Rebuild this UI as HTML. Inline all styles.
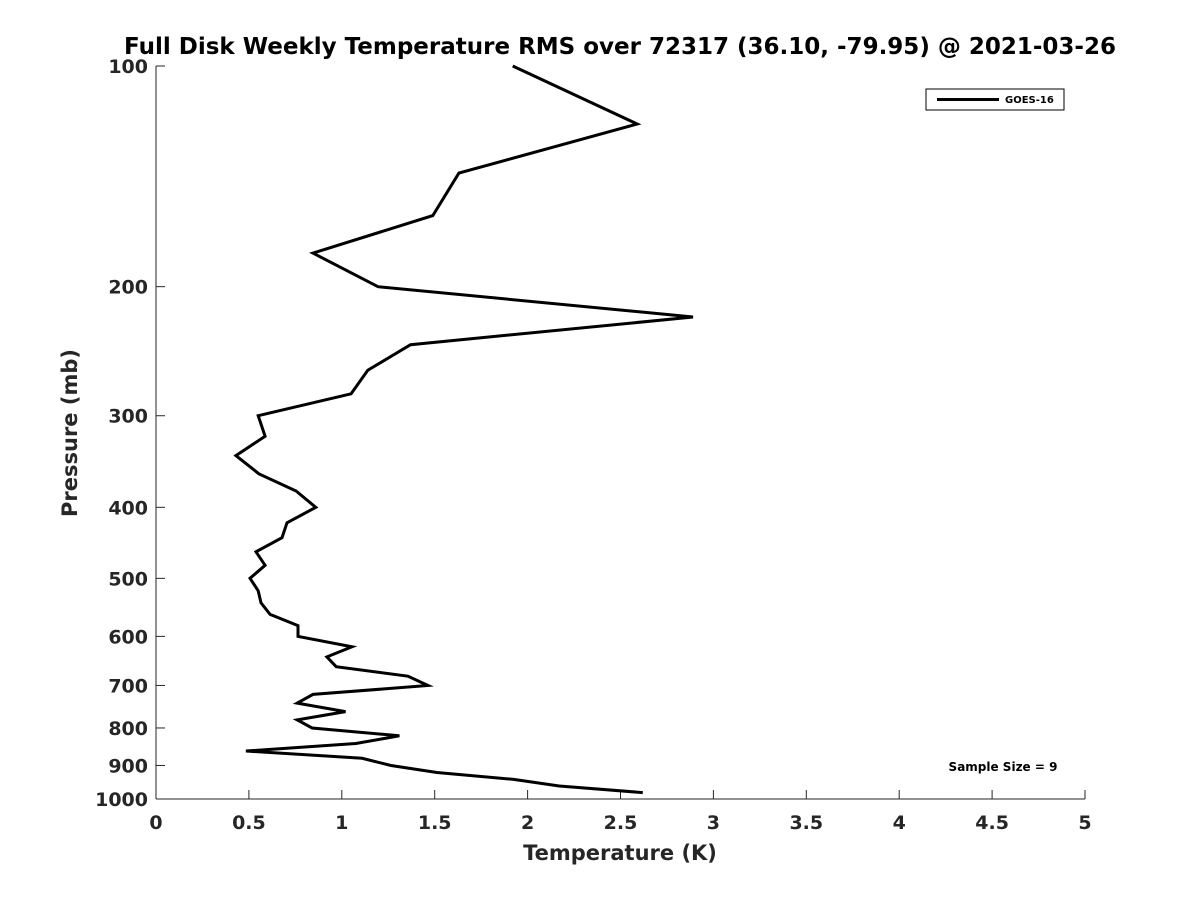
<!DOCTYPE html>
<html><head><meta charset="utf-8"><style>
body{margin:0;background:#fff;}
svg text{font-family:"DejaVu Sans","Liberation Sans",sans-serif;font-weight:bold;fill:#262626;}
</style></head><body>
<svg width="1200" height="900" xmlns="http://www.w3.org/2000/svg">
<rect width="1200" height="900" fill="#fff"/>
<text x="620" y="54" text-anchor="middle" font-size="23" style="fill:#000">Full Disk Weekly Temperature RMS over 72317 (36.10, -79.95) @ 2021-03-26</text>
<g id="axes"></g>
<g id="plot"></g>
<g>
<rect x="926" y="89" width="138" height="21" fill="#fff" stroke="#000" stroke-width="1"/>
<line x1="937" y1="99.5" x2="999" y2="99.5" stroke="#000" stroke-width="3"/>
<text x="1005" y="103" font-size="10" style="fill:#000">GOES-16</text>
</g>
<text x="1003" y="771" text-anchor="middle" font-size="12" style="fill:#000">Sample Size = 9</text>
<text x="620" y="860" text-anchor="middle" font-size="21">Temperature (K)</text>
<text transform="translate(77,433) rotate(-90)" text-anchor="middle" font-size="21">Pressure (mb)</text>
</svg>
<script>
const temps=[1.92,2.59,1.63,1.49,0.845,1.195,2.89,1.37,1.14,1.05,0.55,0.587,0.43,0.554,0.754,0.86,0.705,0.678,0.538,0.587,0.506,0.55,0.565,0.614,0.764,0.764,1.055,0.92,0.97,1.356,1.464,0.845,0.76,1.02,0.76,0.84,1.31,1.076,0.484,1.109,1.265,1.512,1.92,2.17,2.62];
const pressures=[100,120,140,160,180,200,220,240,260,280,300,320,340,360,380,400,420,440,460,480,500,520,540,560,580,600,620,640,660,680,700,720,740,760,780,800,820,840,860,880,900,920,940,960,980];
const xTicks=[0,0.5,1,1.5,2,2.5,3,3.5,4,4.5,5];
const yTicks=[100,200,300,400,500,600,700,800,900,1000];
const NS="http://www.w3.org/2000/svg";
const X0=156,X1=1085,Y0=66,Y1=799;
const xs=t=>X0+(t-0)/(5-0)*(X1-X0);
const ys=p=>Y0+Math.log10(p/100)*(Y1-Y0);
const axes=document.getElementById('axes');
function mk(tag,attrs,parent){const e=document.createElementNS(NS,tag);for(const k in attrs)e.setAttribute(k,attrs[k]);parent.appendChild(e);return e;}
const xa=mk('line',{x1:X0,y1:Y1,x2:X1,y2:Y1,stroke:'#262626','stroke-width':1},axes);


const ya=mk('line',{x1:X0,y1:Y0,x2:X0,y2:Y1,stroke:'#262626','stroke-width':1},axes);


xTicks.forEach(t=>{
  const tk=mk('line',{x1:xs(t),y1:Y1,x2:xs(t),y2:Y1-9,stroke:'#262626'},axes);
  
  
  const tx=mk('text',{x:xs(t),y:Y1+30,'text-anchor':'middle','font-size':19},axes);
  tx.textContent=String(t);
  
  
});
yTicks.forEach(p=>{
  const tk=mk('line',{x1:X0,y1:ys(p),x2:X0+9,y2:ys(p),stroke:'#262626'},axes);
  
  
  const tx=mk('text',{x:X0-8,y:ys(p)+7,'text-anchor':'end','font-size':19},axes);
  tx.textContent=String(p);
  
  
});
const plot=document.getElementById('plot');
const pts=temps.map((t,i)=>xs(t).toFixed(1)+','+ys(pressures[i]).toFixed(1)).join(' ');
const line=mk('polyline',{points:pts,fill:'none',stroke:'#000','stroke-width':3,'stroke-linejoin':'miter'},plot);


</script>
</body></html>
